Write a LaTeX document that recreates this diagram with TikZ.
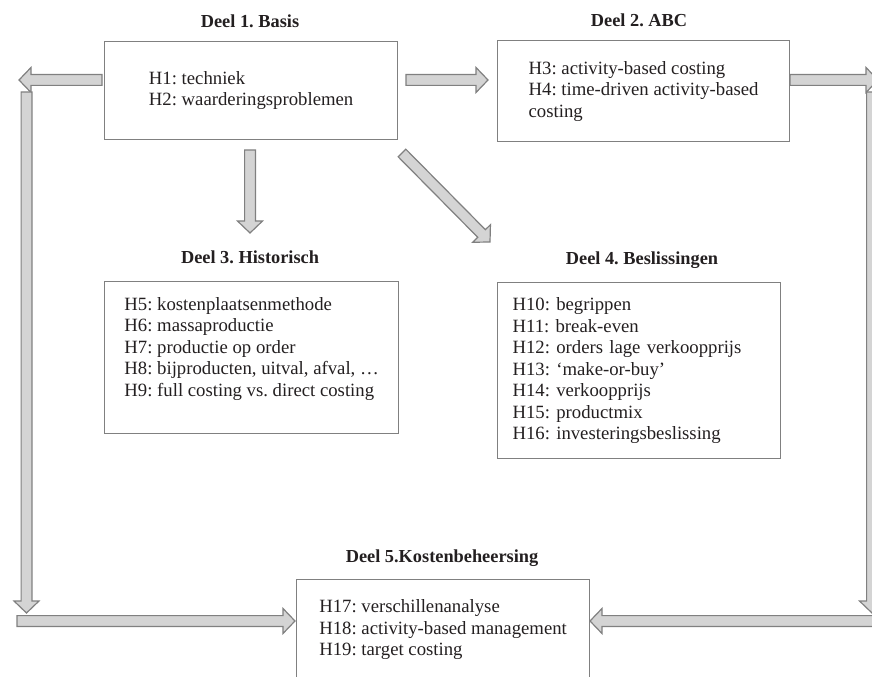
\documentclass[tikz,border=0pt]{standalone}
\usepackage{fontspec}
\setmainfont{Liberation Serif}
\usetikzlibrary{calc}
\frenchspacing

\definecolor{lijngrijs}{RGB}{128,128,128}
\definecolor{pijlvul}{RGB}{212,212,212}
\definecolor{tekstkleur}{RGB}{35,31,32}

\newcommand{\schacht}{2.7bp}
\newcommand{\kopbreed}{6.25bp}
\newcommand{\koplengte}{6bp}

\tikzstyle{deel} = [rectangle, draw=lijngrijs, line width=0.6bp, anchor=north west, align=left, inner sep=0pt, text=tekstkleur, font=\fontsize{9.4}{10.8}\selectfont]
\tikzstyle{titel} = [anchor=base, inner sep=0pt, text=tekstkleur, font=\fontsize{9.2}{11}\selectfont\bfseries]
\tikzstyle{blok} = [draw=lijngrijs, fill=pijlvul, line width=0.6bp, line join=miter,
    to path={($(\tikztostart)!\schacht!90:(\tikztotarget)$)
        -- ($($(\tikztotarget)!\koplengte!(\tikztostart)$)!\schacht!90:(\tikztotarget)$)
        -- ($($(\tikztotarget)!\koplengte!(\tikztostart)$)!\kopbreed!90:(\tikztotarget)$)
        -- (\tikztotarget)
        -- ($($(\tikztotarget)!\koplengte!(\tikztostart)$)!\kopbreed!-90:(\tikztotarget)$)
        -- ($($(\tikztotarget)!\koplengte!(\tikztostart)$)!\schacht!-90:(\tikztotarget)$)
        -- ($(\tikztostart)!\schacht!-90:(\tikztotarget)$) -- cycle}]

\begin{document}
\begin{tikzpicture}[x=0.5bp, y=-0.5bp]

    \useasboundingbox (0,0) rectangle (872,677);
    \clip (0,0) rectangle (872,677);

    \node (basis) [deel, minimum width=146.5bp, minimum height=49bp] at (104,41)
        {H1: techniek\\H2: waarderingsproblemen};
    \node (abc) [deel, minimum width=146bp, minimum height=50.5bp] at (497,40)
        {H3: activity-based costing\\H4: time-driven activity-based\\costing};
    \node (historisch) [deel, minimum width=147bp, minimum height=76bp] at (104,281)
        {H5: kostenplaatsenmethode\\H6: massaproductie\\H7: productie op order\\H8: bijproducten, uitval, afval, …\\H9: full costing vs. direct costing\\\mbox{}};
    \node (beslissingen) [deel, text width=126.5bp, inner xsep=7.5bp, minimum height=88bp] at (497,282)
        {H10: begrippen\\H11: break-even\\H12: orders lage verkoopprijs\\H13: ‘make-or-buy’\\H14: verkoopprijs\\H15: productmix\\H16: investeringsbeslissing};
    \node (beheersing) [deel, minimum width=146.5bp, minimum height=59bp] at (296,579)
        {H17: verschillenanalyse\\H18: activity-based management\\H19: target costing\\\mbox{}};

    \node (titel1) [titel] at (250,28) {Deel 1. Basis};
    \node (titel2) [titel] at (639,27) {Deel 2. ABC};
    \node (titel3) [titel] at (250,263) {Deel 3. Historisch};
    \node (titel4) [titel] at (642,264) {Deel 4. Beslissingen};
    \node (titel5) [titel] at (442,562) {Deel 5.Kostenbeheersing};

    \coordinate (links1) at (102,80);
    \coordinate (links2) at (19,80);
    \coordinate (links3) at (26.5,92);
    \coordinate (links4) at (26.5,613);
    \coordinate (links5) at (17,621);
    \coordinate (links6) at (295,621);

    \coordinate (rechts1) at (790,80);
    \coordinate (rechts2) at (878,80);
    \coordinate (rechts3) at (872,92);
    \coordinate (rechts4) at (872,613);
    \coordinate (rechts5) at (880,621);
    \coordinate (rechts6) at (590,621);

    \coordinate (midden1) at (406,80);
    \coordinate (midden2) at (488,80);
    \coordinate (omlaag1) at (250,150);
    \coordinate (omlaag2) at (250,233);
    \coordinate (schuin1) at (402,153);
    \coordinate (schuin2) at (490,242);

    \draw [blok] (links1) to (links2);
    \draw [blok] (links3) to (links4);
    \draw [blok] (links5) to (links6);

    \draw [blok] (rechts1) to (rechts2);
    \draw [blok] (rechts3) to (rechts4);
    \draw [blok] (rechts5) to (rechts6);

    \draw [blok] (midden1) to (midden2);
    \draw [blok] (omlaag1) to (omlaag2);
    \draw [blok] (schuin1) to (schuin2);

\end{tikzpicture}
\end{document}
